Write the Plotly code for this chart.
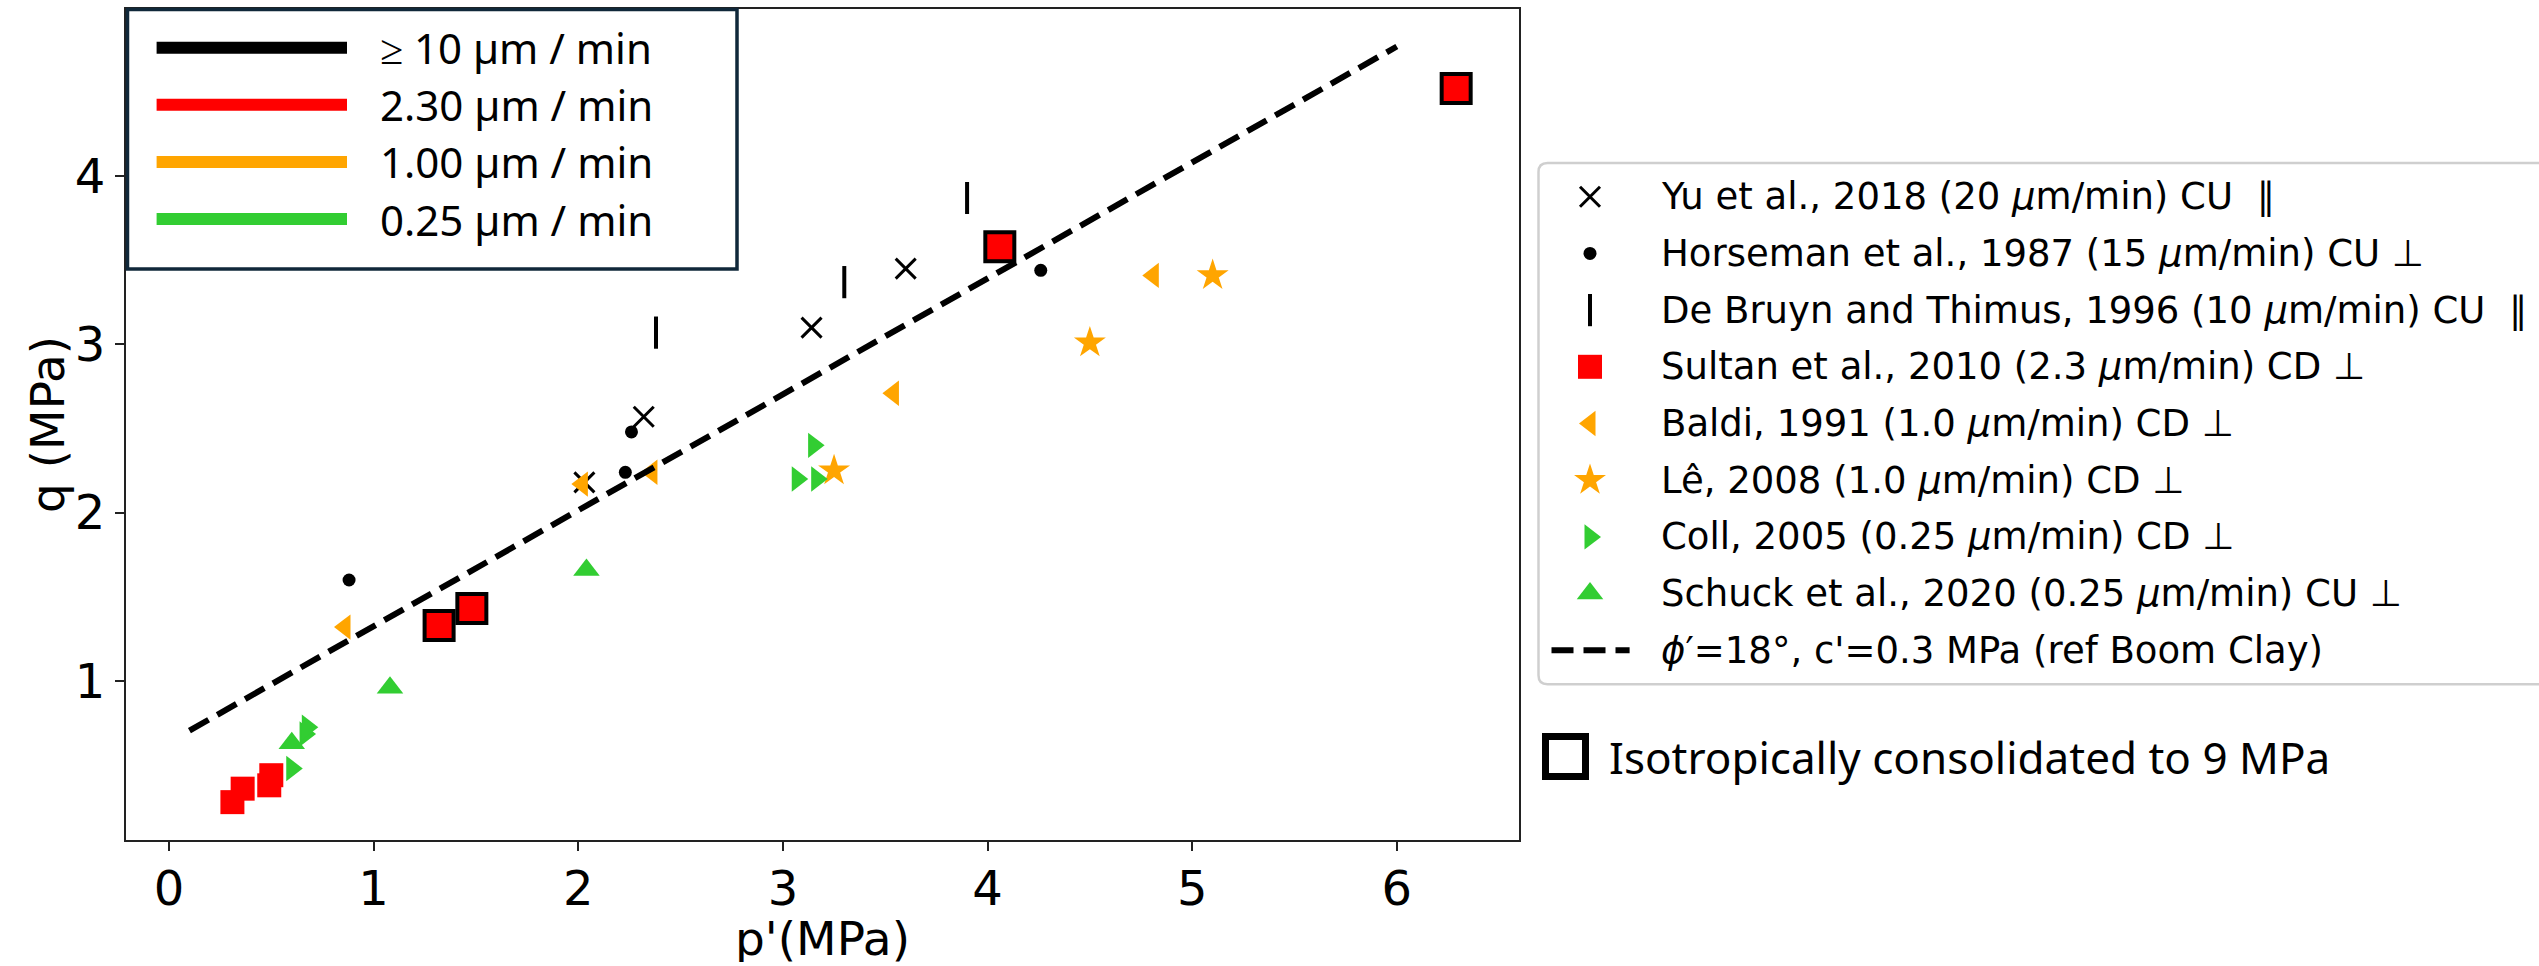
import numpy as np
import plotly.graph_objects as go

W, H = 2539, 966

# ---- data: p' (MPa) and q (MPa) for each study ----
yu_p = [2.03, 2.32, 3.14, 3.60]
yu_q = [2.18, 2.57, 3.10, 3.45]

horseman_p = [0.88, 2.23, 2.26, 4.26]
horseman_q = [1.60, 2.24, 2.48, 3.44]

debruyn_p = [2.38, 3.30, 3.90]
debruyn_q = [3.07, 3.37, 3.87]

sultan_p = [0.31, 0.36, 0.49, 0.50]
sultan_q = [0.28, 0.36, 0.38, 0.44]
# Sultan et al. samples isotropically consolidated to 9 MPa
sultan_iso_p = [1.32, 1.48, 4.06, 6.29]
sultan_iso_q = [1.33, 1.43, 3.58, 4.52]

baldi_p = [0.86, 2.02, 2.36, 3.54, 4.81]
baldi_q = [1.32, 2.17, 2.24, 2.71, 3.41]

le_p = [3.25, 4.50, 5.10]
le_q = [2.25, 3.01, 3.41]

coll_p = [0.60, 0.665, 0.676, 3.07, 3.15, 3.165]
coll_q = [0.48, 0.685, 0.725, 2.20, 2.40, 2.20]

schuck_p = [0.60, 1.08, 2.04]
schuck_q = [0.63, 0.96, 1.66]

# reference failure line for Boom Clay
phi_deg = 18.0
c_eff = 0.3
line_p = [0.1, 6.0]

rate_labels = ["≥ 10 µm / min", "2.30 µm / min", "1.00 µm / min", "0.25 µm / min"]
rate_colors = ["#000000", "#ff0000", "#ffa500", "#32cd32"]

x_ticks = [0, 1, 2, 3, 4, 5, 6]
y_ticks = [1, 2, 3, 4]

ORANGE, GREEN, RED = "#ffa500", "#32cd32", "#ff0000"
MU = "<i>μ</i>"

series = [
    dict(name=f"Yu et al., 2018 (20 {MU}m/min) CU  ∥", p=yu_p, q=yu_q,
         symbol="x-thin", color="black", size=20, lw=3, lc="black"),
    dict(name=f"Horseman et al., 1987 (15 {MU}m/min) CU ⊥", p=horseman_p, q=horseman_q,
         symbol="circle", color="black", size=13, lw=0, lc="black"),
    dict(name=f"De Bruyn and Thimus, 1996 (10 {MU}m/min) CU  ∥", p=debruyn_p, q=debruyn_q,
         symbol="line-ns", color="black", size=23, lw=4, lc="black"),
    dict(name=f"Sultan et al., 2010 (2.3 {MU}m/min) CD ⊥", p=sultan_p, q=sultan_q,
         symbol="square", color=RED, size=24, lw=0, lc=RED),
    dict(name=f"Baldi, 1991 (1.0 {MU}m/min) CD ⊥", p=baldi_p, q=baldi_q,
         symbol="triangle-left", color=ORANGE, size=22, lw=0, lc=ORANGE),
    dict(name=f"Lê, 2008 (1.0 {MU}m/min) CD ⊥", p=le_p, q=le_q,
         symbol="star", color=ORANGE, size=24, lw=0, lc=ORANGE),
    dict(name=f"Coll, 2005 (0.25 {MU}m/min) CD ⊥", p=coll_p, q=coll_q,
         symbol="triangle-right", color=GREEN, size=22, lw=0, lc=GREEN),
    dict(name=f"Schuck et al., 2020 (0.25 {MU}m/min) CU ⊥", p=schuck_p, q=schuck_q,
         symbol="triangle-up", color=GREEN, size=23, lw=0, lc=GREEN),
]
line_label = "<i>ϕ</i>′=18°, c'=0.3 MPa (ref Boom Clay)"

# Mohr-Coulomb envelope projected in p'-q space (triaxial compression)
s = np.sin(np.radians(phi_deg))
M = 6 * s / (3 - s)
q_c = 6 * c_eff * np.cos(np.radians(phi_deg)) / (3 - s)
line_q = [q_c + M * p for p in line_p]

DASH = "22px,10px"
TICK_FONT = dict(family="DejaVu Sans", size=48, color="black")
TITLE_FONT = dict(family="DejaVu Sans", size=47, color="black")
LEG_FONT = dict(family="DejaVu Sans", size=37, color="black")
KEY_FONT = dict(family="Noto Sans", size=42, color="black")

fig = go.Figure()

for sr in series:
    fig.add_trace(go.Scatter(
        x=sr["p"], y=sr["q"], mode="markers", name=sr["name"], showlegend=False,
        marker=dict(symbol=sr["symbol"], color=sr["color"], size=sr["size"],
                    line=dict(width=sr["lw"], color=sr["lc"])),
    ))
    if sr["p"] is sultan_p:
        fig.add_trace(go.Scatter(
            x=sultan_iso_p, y=sultan_iso_q, mode="markers", showlegend=False,
            marker=dict(symbol="square", color=RED, size=29,
                        line=dict(width=4, color="black")),
        ))

fig.add_trace(go.Scatter(
    x=line_p, y=line_q, mode="lines", showlegend=False,
    line=dict(color="black", width=6, dash=DASH),
))

# ---- key for the studies (pixel-unit overlay axes) ----
row0, row_step = 196.7, 56.7
mark_x, text_x = 1590, 1659
for i, sr in enumerate(series):
    fig.add_trace(go.Scatter(
        x=[mark_x], y=[row0 + i * row_step], xaxis="x2", yaxis="y2",
        mode="markers", showlegend=False,
        marker=dict(symbol=sr["symbol"], color=sr["color"], size=sr["size"],
                    line=dict(width=sr["lw"], color=sr["lc"])),
    ))
line_row = row0 + len(series) * row_step
fig.add_trace(go.Scatter(
    x=[1551.5, 1629.6], y=[line_row, line_row], xaxis="x2", yaxis="y2",
    mode="lines", showlegend=False,
    line=dict(color="black", width=6, dash=DASH),
))

annotations = []
for i, sr in enumerate(series + [dict(name=line_label)]):
    annotations.append(dict(
        x=text_x, y=row0 + i * row_step, xref="x2", yref="y2",
        text=sr["name"], showarrow=False, xanchor="left", yanchor="middle",
        font=LEG_FONT,
    ))

shapes = []
# rounded frame of the study key
X0, Y0, X1, Y1, r = 1538.5, 163.0, 2560.0, 684.3, 9
shapes.append(dict(
    type="path", xref="x2", yref="y2", layer="below",
    path=(f"M{X1},{Y0} L{X0 + r},{Y0} Q{X0},{Y0} {X0},{Y0 + r} "
          f"L{X0},{Y1 - r} Q{X0},{Y1} {X0 + r},{Y1} L{X1},{Y1}"),
    line=dict(color="#cfcfcf", width=2.5), fillcolor="white",
))

# ---- strain-rate colour key (top left of the axes) ----
shapes.append(dict(
    type="rect", xref="x2", yref="y2", layer="above",
    x0=127.5, x1=737, y0=9.5, y1=269,
    line=dict(color="#10283a", width=3.5), fillcolor="white",
))
for i, (lab, col) in enumerate(zip(rate_labels, rate_colors)):
    yy = 47.7 + i * 57.1
    shapes.append(dict(
        type="line", xref="x2", yref="y2", layer="above",
        x0=156.6, x1=347, y0=yy, y1=yy, line=dict(color=col, width=12),
    ))
    annotations.append(dict(
        x=377.6, y=yy, xref="x2", yref="y2", text=lab, showarrow=False,
        xanchor="left", yanchor="middle", font=KEY_FONT,
    ))

# ---- isotropic consolidation key ----
shapes.append(dict(
    type="rect", xref="x2", yref="y2", layer="above",
    x0=1545.5, x1=1585.5, y0=736.5, y1=776.5,
    line=dict(color="black", width=7), fillcolor="white",
))
annotations.append(dict(
    x=1607, y=757, xref="x2", yref="y2", text="Isotropically consolidated to 9 MPa",
    showarrow=False, xanchor="left", yanchor="middle",
    font=dict(family="Noto Sans", size=44, color="black"),
))

# ---- axis titles ----
annotations.append(dict(
    x=822, y=938, xref="x2", yref="y2", text="p'(MPa)", showarrow=False,
    xanchor="center", yanchor="middle", height=48, valign="middle",
    font=TITLE_FONT,
))
annotations.append(dict(
    x=47, y=425, xref="x2", yref="y2", text="q (MPa)", showarrow=False,
    xanchor="center", yanchor="middle", textangle=-90, font=TITLE_FONT,
))

ax_common = dict(
    showline=True, mirror=True, linecolor="#222222", linewidth=2,
    ticks="outside", ticklen=9, tickwidth=2, tickcolor="#222222",
    showgrid=False, zeroline=False, tickfont=TICK_FONT,
)

fig.update_layout(
    width=W, height=H,
    margin=dict(l=0, r=0, t=0, b=0),
    paper_bgcolor="white", plot_bgcolor="rgba(0,0,0,0)",
    showlegend=False,
    xaxis=dict(domain=[126 / W, 1519 / W], range=[-0.21, 6.597],
               tickvals=x_ticks, anchor="y", ticklabelstandoff=-4, **ax_common),
    yaxis=dict(domain=[(H - 840) / H, (H - 8.5) / H], range=[0.055, 4.996],
               tickvals=y_ticks, anchor="x", **ax_common),
    xaxis2=dict(domain=[0, 1], range=[0, W], visible=False, anchor="y2"),
    yaxis2=dict(domain=[0, 1], range=[H, 0], visible=False, anchor="x2"),
    shapes=shapes,
    annotations=annotations,
)

fig.write_html("out.html")
